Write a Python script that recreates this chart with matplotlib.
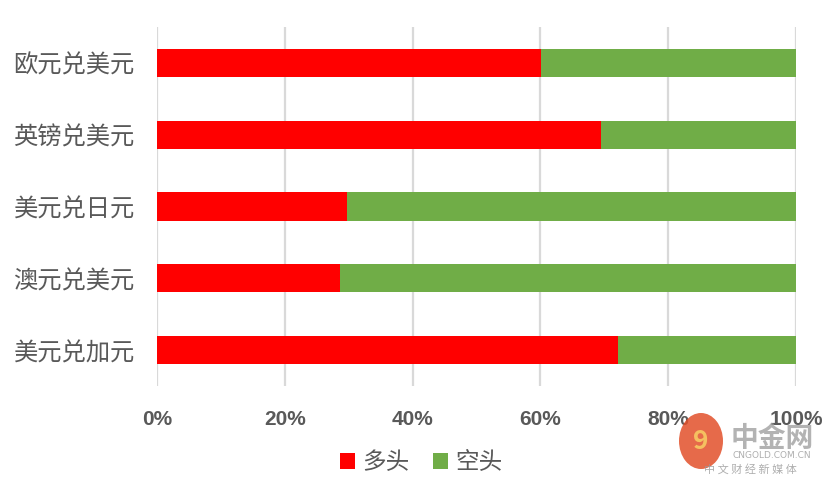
import matplotlib
matplotlib.use("Agg")
import matplotlib.pyplot as plt
from matplotlib.patches import Ellipse
import numpy as np

plt.rcParams['font.family'] = ['Noto Sans CJK SC', 'DejaVu Sans']

categories = ["欧元兑美元", "英镑兑美元", "美元兑日元", "澳元兑美元", "美元兑加元"]
long_pct = [60.1, 69.5, 29.7, 28.6, 72.1]
short_pct = [100 - v for v in long_pct]
series_names = ["多头", "空头"]
xticks = [0, 20, 40, 60, 80, 100]
xtick_labels = ["0%", "20%", "40%", "60%", "80%", "100%"]

red = "#FF0000"
green = "#70AD47"
gray = "#595959"

fig = plt.figure(figsize=(8.33, 4.86), dpi=100)
ax = fig.add_axes([157/833, 1-386/486, (796-157)/833, (386-27)/486])

y = np.arange(len(categories))
h = 0.39
ax.barh(y, long_pct, height=h, color=red, label=series_names[0], zorder=3)
ax.barh(y, short_pct, left=long_pct, height=h, color=green, label=series_names[1], zorder=3)

ax.set_ylim(len(categories)-0.5, -0.5)
ax.set_xlim(0, 100)
ax.set_yticks(y)
ax.set_yticklabels(categories, fontsize=17.5, color=gray)
ax.set_xticks(xticks)
ax.set_xticklabels(xtick_labels, fontsize=15, color=gray, fontweight='bold',
                   family=['Liberation Sans', 'DejaVu Sans'])
ax.tick_params(axis='both', length=0)
ax.tick_params(axis='x', pad=17)
ax.tick_params(axis='y', pad=16)
ax.grid(axis='x', color="#D9D9D9", linewidth=1.6, zorder=0)
for s in ax.spines.values():
    s.set_visible(False)

leg = fig.legend(loc='center', bbox_to_anchor=(421/833, 1-463/486), ncol=2, frameon=False,
                 fontsize=17, handlelength=0.65, handleheight=0.65, handletextpad=0.3,
                 columnspacing=1.0)
for t in leg.get_texts():
    t.set_color(gray)

# watermark
fig.patches.append(Ellipse((701/833, 1-441/486), 44/833, 56/486, transform=fig.transFigure,
                           facecolor="#E2502A", edgecolor='none', alpha=0.85, zorder=5))
fig.text(701/833, 1-441/486, "9", ha='center', va='center', fontsize=19, color="#F5C060",
         fontweight='bold', zorder=6)
fig.text(772/833, 1-439/486, "中金网", ha='center', va='center', fontsize=20, color="#9A9A9A",
         alpha=0.75, fontweight='bold', zorder=6)
fig.text(772/833, 1-456/486, "CNGOLD.COM.CN", ha='center', va='center', fontsize=6.5, color="#9A9A9A",
         alpha=0.8, zorder=6, family=['DejaVu Sans'])
fig.text(750/833, 1-469/486, "中 文 财 经 新 媒 体", ha='center', va='center', fontsize=8, color="#9A9A9A",
         alpha=0.8, zorder=6)

fig.savefig("out.png", dpi=100)
